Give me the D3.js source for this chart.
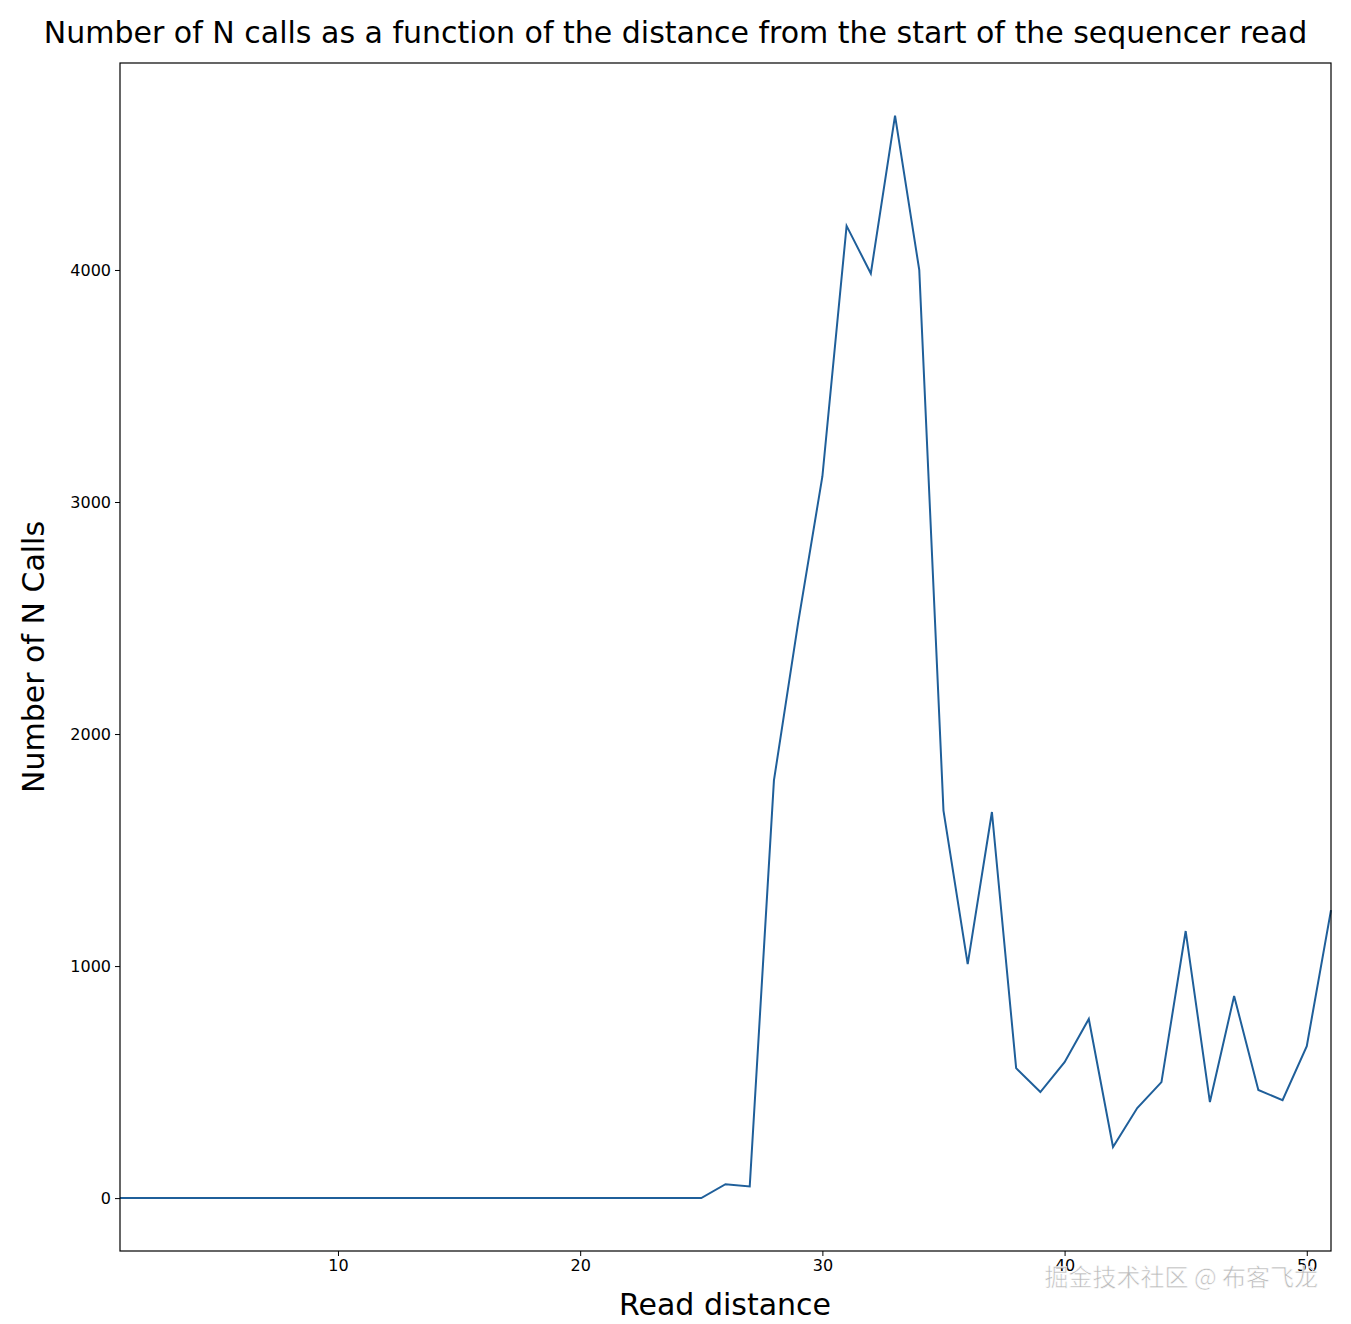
<!DOCTYPE html>
<html><head><meta charset="utf-8">
<script src="https://cdn.jsdelivr.net/npm/d3@7"></script>
<style>body{margin:0;background:#fff}svg text{font-family:"DejaVu Sans",sans-serif}</style>
</head><body><div id="chart"></div>
<script>
const distances = d3.range(1, 52);
const nCalls = [0,0,0,0,0,0,0,0,0,0,0,0,0,0,0,0,0,0,0,0,0,0,0,0,0,
  60,50,1800,2480,3110,4190,3985,4665,4000,1670,1008,1664,560,457,586,772,220,388,500,1151,414,871,466,422,655,1241];
const yTicks = [0,1000,2000,3000,4000];
const xTicks = [10,20,30,40,50];

const width = 1351, height = 1324;
const plotLeft = 120, plotRight = 1331, plotTop = 63, plotBottom = 1251;

const svg = d3.select('#chart').append('svg').attr('width', width).attr('height', height);
const x = d3.scaleLinear().domain([1, 51]).range([plotLeft, plotRight]);
const y = d3.scaleLinear().domain([-228, 4892]).range([plotBottom, plotTop]);

svg.append('g').attr('transform', `translate(0,${plotBottom})`)
  .call(d3.axisBottom(x).tickValues(xTicks).tickSize(5).tickPadding(4))
  .call(g => g.select('.domain').remove())
  .selectAll('text').attr('font-size', 16);
svg.append('g').attr('transform', `translate(${plotLeft},0)`)
  .call(d3.axisLeft(y).tickValues(yTicks).tickFormat(d3.format('d')).tickSize(5).tickPadding(4))
  .call(g => g.select('.domain').remove())
  .selectAll('text').attr('font-size', 16);

svg.append('path').datum(distances)
  .attr('fill', 'none').attr('stroke', '#1f5f9a').attr('stroke-width', 2)
  .attr('d', d3.line().x(d => x(d)).y((d, i) => y(nCalls[i])));

svg.append('rect').attr('x', plotLeft).attr('y', plotTop)
  .attr('width', plotRight - plotLeft).attr('height', plotBottom - plotTop)
  .attr('fill', 'none').attr('stroke', '#000').attr('stroke-width', 1.2);

svg.append('text').attr('x', width / 2).attr('y', 43).attr('text-anchor', 'middle')
  .attr('font-size', 30).text('Number of N calls as a function of the distance from the start of the sequencer read');
svg.append('text').attr('x', 725).attr('y', 1315).attr('text-anchor', 'middle')
  .attr('font-size', 30).text('Read distance');
svg.append('text').attr('transform', 'translate(44,657) rotate(-90)').attr('text-anchor', 'middle')
  .attr('font-size', 30).text('Number of N Calls');
svg.append('text').attr('x', 1318).attr('y', 1286).attr('text-anchor', 'end')
  .attr('font-size', 24).attr('fill', '#bbb').attr('stroke', '#fff').attr('stroke-width', 0.6)
  .style('font-family', '"Noto Sans CJK SC",sans-serif').text('掘金技术社区 @ 布客飞龙');
</script></body></html>
